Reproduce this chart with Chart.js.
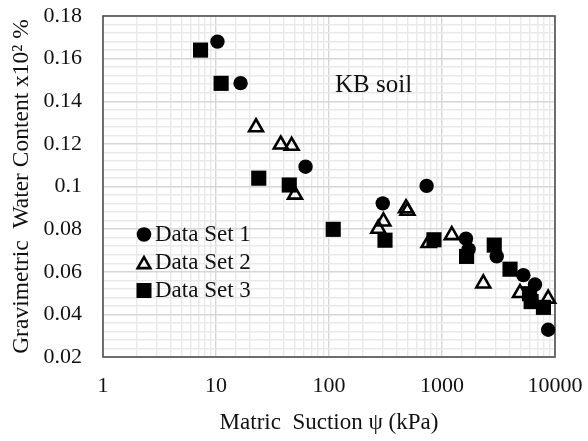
<!DOCTYPE html>
<html>
<head>
<meta charset="utf-8">
<title>KB soil - water retention</title>
<script src="https://cdn.jsdelivr.net/npm/chart.js@4.4.1/dist/chart.umd.min.js"></script>
<style>
    html, body { margin: 0; padding: 0; background: #ffffff; }
    canvas { display: block; }
</style>
</head>
<body>
<canvas id="swccChart" width="588" height="441"></canvas>
<script>
// Matric suction (kPa) and gravimetric water content
const set1Suction = [10.3, 16.5, 62, 299, 731, 1630, 1720, 3050, 5250, 6650, 8700];
const set1Water   = [0.168, 0.1485, 0.1093, 0.0921, 0.1003, 0.0755, 0.0705, 0.0672, 0.0584, 0.0540, 0.0328];

const set2Suction = [22.6, 37.4, 46.7, 50, 273, 303, 480, 495, 760, 1220, 2320, 4900, 8700];
const set2Water   = [0.1278, 0.1197, 0.1191, 0.0962, 0.0802, 0.0836, 0.0898, 0.0886, 0.0735, 0.0772, 0.0545, 0.0500, 0.0474];

const set3Suction = [7.3, 11.1, 23.9, 44.5, 109, 313, 849, 1650, 2900, 4000, 5950, 6150, 7900];
const set3Water   = [0.164, 0.1484, 0.1039, 0.1007, 0.0799, 0.0748, 0.0750, 0.0672, 0.0725, 0.0612, 0.0497, 0.0460, 0.0433];

const seriesLabels = ['Data Set 1', 'Data Set 2', 'Data Set 3'];
const xTickLabels = [1, 10, 100, 1000, 10000];
const yTickLabels = [0.02, 0.04, 0.06, 0.08, 0.1, 0.12, 0.14, 0.16, 0.18];

const FONT = "'Liberation Serif', 'Times New Roman', serif";
const TEXT = '#111111';
const GRID_MAJOR = '#d6d6d6';
const GRID_MINOR = '#e9e9e9';

const toPoints = (xs, ys) => xs.map((x, i) => ({ x: x, y: ys[i] }));
const isXLabel = (v) => xTickLabels.some(t => Math.abs(t - v) < 1e-6 * t);
const isYLabel = (v) => yTickLabels.some(t => Math.abs(t - v) < 1e-7);

// chart.js adds tick padding around the plot; the layout padding handles that here
function fixScalePadding(s) {
    s.paddingTop = 0;
    s.paddingBottom = 0;
    s.paddingLeft = 0;
    s.paddingRight = 0;
}

/* ---- marker drawing for the legend ---- */
function drawMarker(ctx, style, x, y) {
    ctx.save();
    ctx.fillStyle = '#000';
    ctx.strokeStyle = '#000';
    ctx.beginPath();
    if (style === 'circle') {
        ctx.arc(x, y, 7.3, 0, Math.PI * 2);
        ctx.fill();
    } else if (style === 'rect') {
        ctx.rect(x - 7.5, y - 7.5, 15, 15);
        ctx.fill();
    } else {
        const r = 7.3;
        ctx.lineWidth = 2.6;
        ctx.moveTo(x, y - r + 1.5);
        ctx.lineTo(x + r * 0.866, y + r / 2 + 1.5);
        ctx.lineTo(x - r * 0.866, y + r / 2 + 1.5);
        ctx.closePath();
        ctx.stroke();
    }
    ctx.restore();
}

const plotFrame = {
    id: 'plotFrame',
    beforeDatasetsDraw(chart) {
        const { ctx, chartArea: a } = chart;
        ctx.save();
        ctx.strokeStyle = '#505050';
        ctx.lineWidth = 1.6;
        ctx.strokeRect(a.left, a.top, a.right - a.left, a.bottom - a.top);
        ctx.restore();
    },
    afterDraw(chart) {
        const ctx = chart.ctx;
        ctx.save();
        ctx.fillStyle = TEXT;
        ctx.textBaseline = 'middle';
        ctx.textAlign = 'left';

        // annotation
        ctx.font = '25px ' + FONT;
        ctx.fillText('KB soil', 335, 85);

        // legend inside the plot
        const styles = ['circle', 'triangle', 'rect'];
        const rows = [234.5, 263, 290.5];
        ctx.font = '23px ' + FONT;
        seriesLabels.forEach((label, i) => {
            drawMarker(ctx, styles[i], 144, rows[i]);
            ctx.fillStyle = TEXT;
            ctx.fillText(label, 155, rows[i]);
        });
        ctx.restore();
    }
};

function renderChart() {
    const canvas = document.getElementById('swccChart');

    new Chart(canvas, {
        type: 'scatter',
        data: {
            datasets: [
                {
                    label: seriesLabels[0],
                    data: toPoints(set1Suction, set1Water),
                    pointStyle: 'circle',
                    pointRadius: 7.2,
                    backgroundColor: '#000',
                    borderColor: '#000',
                    borderWidth: 0,
                    clip: false,
                },
                {
                    label: seriesLabels[1],
                    data: toPoints(set2Suction, set2Water),
                    pointStyle: 'triangle',
                    pointRadius: 8,
                    backgroundColor: 'rgba(0,0,0,0)',
                    borderColor: '#000',
                    borderWidth: 2.6,
                    clip: false,
                },
                {
                    label: seriesLabels[2],
                    data: toPoints(set3Suction, set3Water),
                    pointStyle: 'rect',
                    pointRadius: 10.7,
                    backgroundColor: '#000',
                    borderColor: '#000',
                    borderWidth: 0,
                    clip: false,
                },
            ],
        },
        options: {
            responsive: false,
            animation: false,
            layout: { padding: { top: 16, right: 33, left: 0, bottom: 0 } },
            plugins: {
                legend: { display: false },
                tooltip: { enabled: false },
            },
            scales: {
                x: {
                    type: 'logarithmic',
                    min: 1,
                    max: 10000,
                    border: { display: false },
                    grid: {
                        drawTicks: false,
                        lineWidth: 1.4,
                        color: (c) => (c.tick && isXLabel(c.tick.value) ? GRID_MAJOR : GRID_MINOR),
                    },
                    ticks: {
                        autoSkip: false,
                        maxRotation: 0,
                        padding: 16,
                        color: TEXT,
                        font: { family: FONT, size: 22 },
                        callback: (v) => (isXLabel(v) ? String(Math.round(v)) : ''),
                    },
                    title: {
                        display: true,
                        text: 'Matric  Suction \u03c8 (kPa)',
                        color: TEXT,
                        font: { family: FONT, size: 23 },
                        padding: { top: 0, bottom: 4 },
                    },
                    afterFit: (s) => { s.height = 84; fixScalePadding(s); },
                },
                y: {
                    type: 'linear',
                    min: 0.02,
                    max: 0.18,
                    border: { display: false },
                    grid: {
                        drawTicks: false,
                        lineWidth: 1.4,
                        color: (c) => (c.tick && isYLabel(c.tick.value) ? GRID_MAJOR : GRID_MINOR),
                    },
                    ticks: {
                        stepSize: 0.004,
                        autoSkip: false,
                        padding: 21,
                        color: TEXT,
                        font: { family: FONT, size: 22 },
                        callback: (v) => (isYLabel(v) ? String(Math.round(v * 100) / 100) : ''),
                    },
                    title: {
                        display: true,
                        text: 'Gravimetric  Water Content x10\u00b2 %',
                        color: TEXT,
                        font: { family: FONT, size: 23.5 },
                        padding: { top: 8, bottom: 0 },
                    },
                    afterFit: (s) => { s.width = 103; fixScalePadding(s); },
                },
            },
        },
        plugins: [plotFrame],
    });
}

renderChart();
</script>
</body>
</html>
